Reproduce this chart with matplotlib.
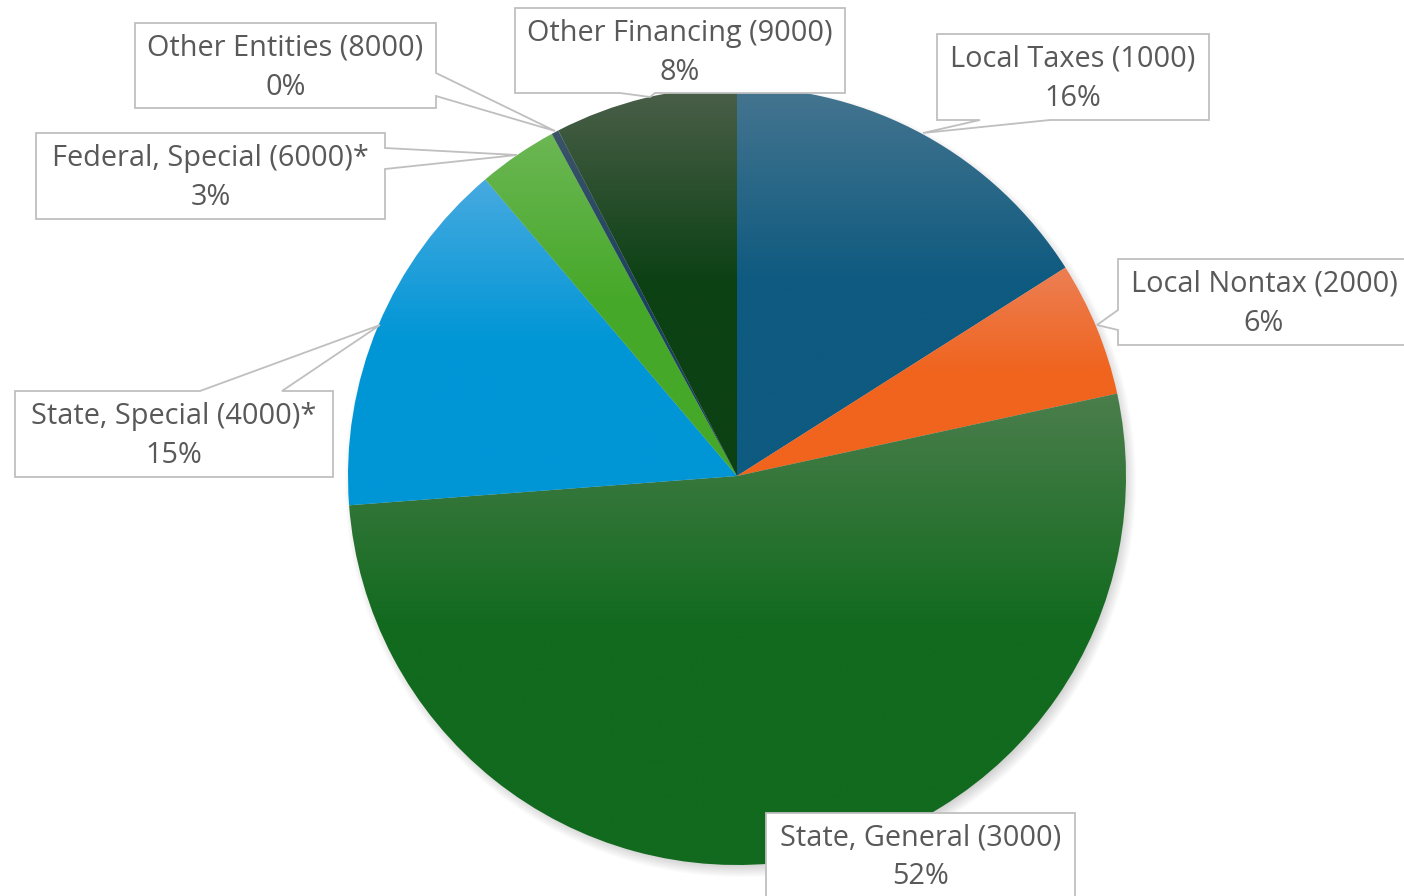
import numpy as np
import matplotlib
matplotlib.use('Agg')
import matplotlib.pyplot as plt
from matplotlib.colors import to_rgb
from matplotlib.patches import Polygon

# Data (share of revenue, %)
categories = ['Local Taxes (1000)', 'Local Nontax (2000)', 'State, General (3000)',
              'State, Special (4000)*', 'Federal, Special (6000)*', 'Other Entities (8000)',
              'Other Financing (9000)']
shares = [16.0, 5.6, 52.2, 15.0, 3.3, 0.3, 7.6]
base_colors = ['#0e5a80', '#f0641e', '#116a1e', '#0096d6', '#45a828', '#1b4060', '#0c4114']
light_colors = ['#45758f', '#ec7f54', '#4b7e4c', '#47aae0', '#6cb754', '#3b5468', '#4b5f49']

W, H = 1404, 896
fig = plt.figure(figsize=(W / 100, H / 100), dpi=100)
ax = fig.add_axes([0, 0, 1, 1])

cx, cy, R = 737, H - 476, 389

# soft shadow behind the pie
yy, xx = np.mgrid[0:H, 0:W]
d = np.hypot(xx - (cx + 3), (H - yy) - (cy - 5))
alpha = np.clip((R + 7 - d) / 14, 0, 1) * 0.35
shadow = np.zeros((H, W, 4))
shadow[..., :3] = 0.45
shadow[..., 3] = alpha
ax.imshow(shadow, extent=[0, W, 0, H], origin='upper', zorder=1, interpolation='bilinear')

wedges, _ = ax.pie(shares, center=(cx, cy), radius=R, startangle=90, counterclock=False,
                   colors=base_colors, frame=True)

# vertical gradient in each wedge: lighter at top, base colour from mid-height down
for w, c0, c1 in zip(wedges, light_colors, base_colors):
    ext = w.get_path().get_extents()
    n = 200
    t = np.clip(np.linspace(0, 1, n) / 0.5, 0, 1)[:, None]
    grad = (1 - t) * np.array(to_rgb(c0)) + t * np.array(to_rgb(c1))
    img = np.repeat(grad[:, None, :], 2, axis=1)
    im = ax.imshow(img, extent=[ext.x0, ext.x1, ext.y0, ext.y1], origin='upper',
                   aspect='auto', zorder=2, interpolation='bilinear')
    im.set_clip_path(w)
    w.set_facecolor('none')
    w.set_edgecolor('none')

ax.set_xlim(0, W)
ax.set_ylim(0, H)
ax.set_aspect('equal')
ax.axis('off')

pct_labels = ['%d%%' % round(s) for s in shares]

# callout boxes in pixel coords (y down): box, side of pointer, pointer base, tip
callouts = [
    ((937, 34, 1209, 120), 'bottom', (980, 1050), (923, 133)),
    ((1118, 259, 1410, 345), 'left', (310, 330), (1097, 325)),
    ((766, 813, 1075, 899), None, None, None),
    ((15, 391, 333, 477), 'top', (200, 282), (380, 325)),
    ((36, 133, 385, 219), 'right', (148, 169), (517, 155)),
    ((135, 23, 436, 108), 'right', (73, 96), (555, 131)),
    ((515, 8, 845, 93), 'bottom', (620, 655), (650, 97)),
]


def P(x, y):
    return (x, H - y)


for (box, side, base, tip), name, pct in zip(callouts, categories, pct_labels):
    x0, y0, x1, y1 = box
    pts = [(x0, y0)]
    if side == 'top':
        pts += [(base[0], y0), tip, (base[1], y0)]
    pts += [(x1, y0)]
    if side == 'right':
        pts += [(x1, base[0]), tip, (x1, base[1])]
    pts += [(x1, y1)]
    if side == 'bottom':
        pts += [(base[1], y1), tip, (base[0], y1)]
    pts += [(x0, y1)]
    if side == 'left':
        pts += [(x0, base[1]), tip, (x0, base[0])]
    poly = Polygon([P(*p) for p in pts], closed=True, facecolor='white',
                   edgecolor='#bfbfbf', lw=1.3, zorder=5)
    ax.add_patch(poly)
    xc = (x0 + x1) / 2
    ax.text(*P(xc, y0 + 25), name, ha='center', va='center', fontsize=20.8,
            family='Open Sans', color='#595959', zorder=6)
    ax.text(*P(xc, y0 + 64), pct, ha='center', va='center', fontsize=20.8,
            family='Open Sans', color='#595959', zorder=6)

fig.savefig('out.png', dpi=100)
